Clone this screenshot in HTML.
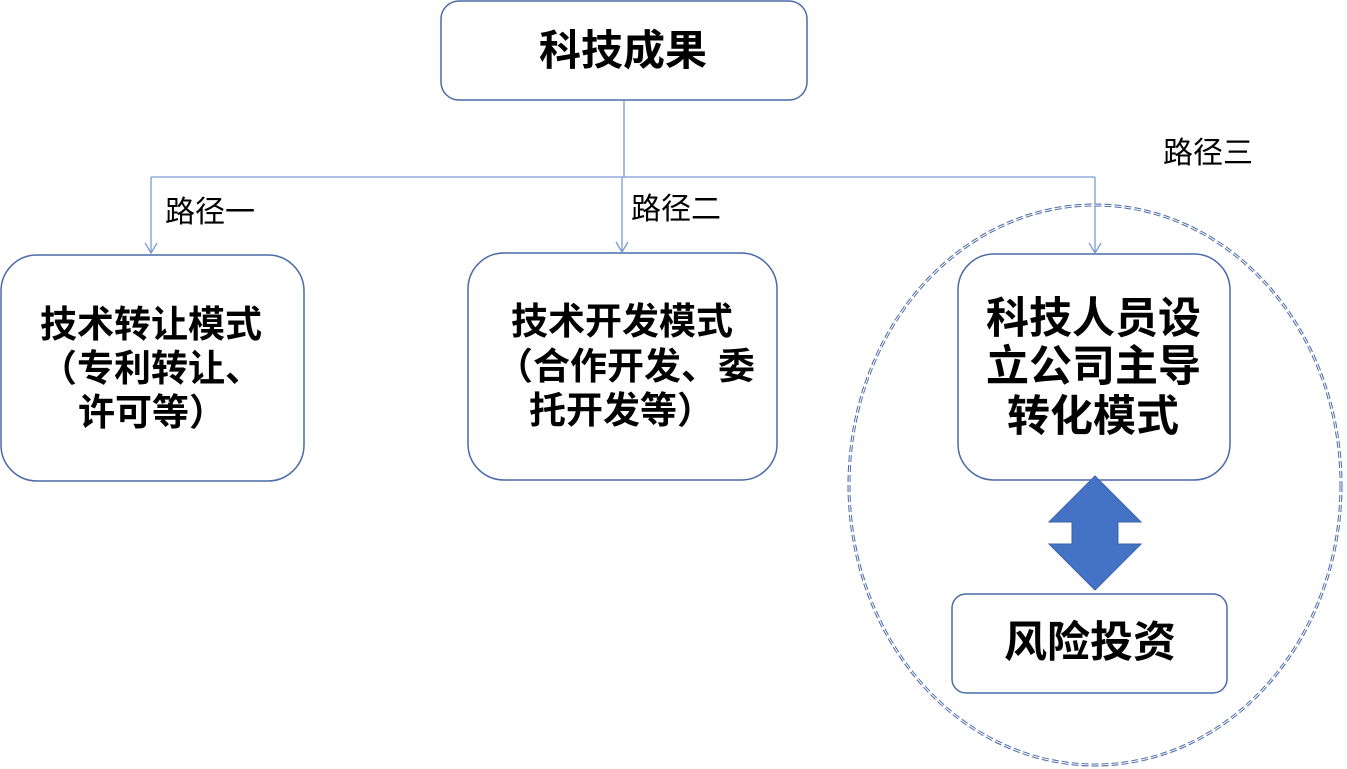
<!DOCTYPE html>
<html><head><meta charset="utf-8"><style>
html,body{margin:0;padding:0;background:#fff;}
body{width:1347px;height:769px;position:relative;overflow:hidden;font-family:"Liberation Sans","Noto Sans CJK SC",sans-serif;}
.t{position:absolute;white-space:nowrap;color:#000;line-height:1;}
.b{font-weight:bold;}
</style></head><body>
<svg width="1347" height="769" style="position:absolute;left:0;top:0">
<g fill="none" stroke="#4a6aa8" stroke-width="1.5">
<rect x="441" y="1" width="366" height="99" rx="18"/>
<rect x="1" y="255" width="303" height="226" rx="36"/>
<rect x="468" y="253" width="309" height="227" rx="36"/>
<rect x="958" y="254" width="272" height="226" rx="36"/>
<rect x="952" y="594" width="275" height="99" rx="14"/>
</g>
<g fill="none" stroke="#7a9ad4" stroke-width="1.3">
<path d="M624 100 V177 M151 177 H1095 M151 177 V253 M622 177 V252 M1095 177 V253"/>
<path d="M145 243 L151 253 L157 243 M616 242 L622 252 L628 242 M1089 243 L1095 253 L1101 243"/>
</g>
<ellipse cx="1095" cy="485" rx="246" ry="280" fill="none" stroke="#4a6aa8" stroke-width="3" stroke-dasharray="7 3"/>
<ellipse cx="1095" cy="485" rx="246" ry="280" fill="none" stroke="#fff" stroke-width="1"/>
<path d="M1095 476 L1141 522 L1118 522 L1118 544 L1141 544 L1095 590 L1049 544 L1072 544 L1072 522 L1049 522 Z" fill="#4472c4" stroke="#3a62ad" stroke-width="1"/>
</svg>
<div class="t b" style="left:539px;top:30px;font-size:42px;">科技成果</div>
<div class="t" style="left:165px;top:198px;font-size:30px;">路径一</div>
<div class="t" style="left:631px;top:195px;font-size:30px;">路径二</div>
<div class="t" style="left:1163px;top:139px;font-size:30px;">路径三</div>
<div class="t b" style="left:40px;top:306px;font-size:37px;">技术转让模式</div>
<div class="t b" style="left:40px;top:350px;font-size:37px;">（专利转让、</div>
<div class="t b" style="left:78px;top:394px;font-size:37px;">许可等）</div>
<div class="t b" style="left:511px;top:303px;font-size:37px;">技术开发模式</div>
<div class="t b" style="left:496px;top:348px;font-size:37px;">（合作开发、委</div>
<div class="t b" style="left:529px;top:392px;font-size:37px;">托开发等）</div>
<div class="t b" style="left:986px;top:298px;font-size:43px;">科技人员设</div>
<div class="t b" style="left:986px;top:346px;font-size:43px;">立公司主导</div>
<div class="t b" style="left:1007px;top:396px;font-size:43px;">转化模式</div>
<div class="t b" style="left:1004px;top:622px;font-size:43px;">风险投资</div>
</body></html>
